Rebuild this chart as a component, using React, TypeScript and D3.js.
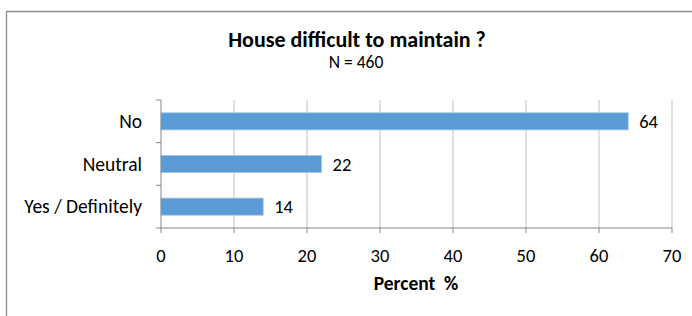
import React from "react";
import * as d3 from "d3";

const categories = ["No", "Neutral", "Yes / Definitely"];
const values = [64, 22, 14];
const xTicks = [0, 10, 20, 30, 40, 50, 60, 70];
const title = "House difficult to maintain ?";
const subtitle = "N = 460";
const xTitle = "Percent  %";

const W = 692;
const H = 316;
const FONT = "Carlito, Calibri, 'Liberation Sans', Arial, sans-serif";

type TProps = {
  x: number;
  y: number;
  size: number;
  anchor?: "start" | "middle" | "end";
  bold?: boolean;
  children: React.ReactNode;
};

function T({ x, y, size, anchor = "start", bold = false, children }: TProps) {
  return (
    <text
      x={x}
      y={y}
      textAnchor={anchor}
      fontSize={size}
      fontWeight={bold ? "bold" : "normal"}
      fill="#000"
      style={{ whiteSpace: "pre" }}
    >
      {children}
    </text>
  );
}

export default function App() {
  const x = d3.scaleLinear().domain([0, 70]).range([161, 672]);
  const y = d3
    .scaleBand<string>()
    .domain(categories)
    .range([100, 228])
    .paddingInner(0.6)
    .paddingOuter(0.3);
  const step = y.step();
  const bounds = d3.range(categories.length + 1).map((i) => 100 + i * step);
  const axisY = 228;

  return (
    <svg
      width={W}
      height={H}
      style={{ position: "absolute", left: 0, top: 0, background: "#fff" }}
      fontFamily={FONT}
    >
      <line x1={6.5} y1={11.5} x2={692} y2={11.5} stroke="#8c8c8c" strokeWidth={1.3} />
      <line x1={6.5} y1={11} x2={6.5} y2={316} stroke="#8c8c8c" strokeWidth={1.3} />

      <T x={357} y={47} size={22} anchor="middle" bold>
        {title}
      </T>
      <T x={356} y={68} size={17.5} anchor="middle">
        {subtitle}
      </T>

      {xTicks.slice(1).map((t) => (
        <line key={"g" + t} x1={x(t)} x2={x(t)} y1={100} y2={axisY} stroke="#c0c0c0" strokeWidth={1} />
      ))}

      {categories.map((c, i) => (
        <rect
          key={c}
          x={x(0)}
          y={y(c)!}
          width={x(values[i]) - x(0)}
          height={y.bandwidth()}
          fill="#5b9bd5"
          stroke="#9ec3e6"
          strokeWidth={0.8}
        />
      ))}

      <line x1={x(0)} x2={x(70)} y1={axisY} y2={axisY} stroke="#868686" strokeWidth={1} />
      {xTicks.map((t) => (
        <line key={"t" + t} x1={x(t)} x2={x(t)} y1={axisY} y2={axisY + 5} stroke="#868686" strokeWidth={1} />
      ))}
      <line x1={x(0)} x2={x(0)} y1={100} y2={axisY} stroke="#868686" strokeWidth={1} />
      {bounds.map((b, i) => (
        <line key={"yt" + i} x1={x(0) - 5} x2={x(0)} y1={b} y2={b} stroke="#868686" strokeWidth={1} />
      ))}

      {categories.map((c) => (
        <T key={"l" + c} x={142} y={y(c)! + y.bandwidth() / 2 + 6.5} size={19.5} anchor="end">
          {c}
        </T>
      ))}

      {categories.map((c, i) => (
        <T key={"v" + c} x={x(values[i]) + 11} y={y(c)! + y.bandwidth() / 2 + 6.5} size={18.5}>
          {values[i]}
        </T>
      ))}

      {xTicks.map((t) => (
        <T key={"xl" + t} x={x(t)} y={261.5} size={18.5} anchor="middle">
          {t}
        </T>
      ))}

      <T x={416} y={290} size={19.5} anchor="middle" bold>
        {xTitle}
      </T>
    </svg>
  );
}
